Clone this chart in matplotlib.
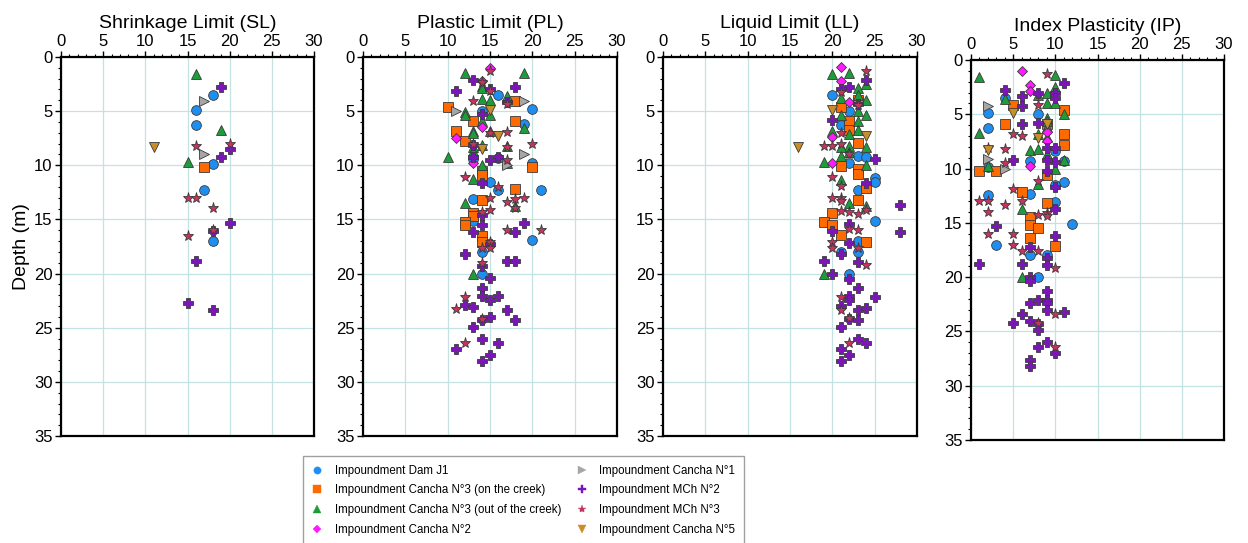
import matplotlib
matplotlib.use("Agg")
import matplotlib.pyplot as plt
from matplotlib.lines import Line2D
from matplotlib.ticker import MultipleLocator

plt.rcParams['font.family'] = ['Liberation Sans', 'DejaVu Sans']

# ---------------- data: (value, depth) ----------------
titles = ["Shrinkage Limit (SL)", "Plastic Limit (PL)", "Liquid Limit (LL)", "Index Plasticity (IP)"]
series_names = ["Impoundment Dam J1", "Impoundment Cancha N°3 (on the creek)",
                "Impoundment Cancha N°3 (out of the creek)", "Impoundment Cancha N°2",
                "Impoundment Cancha N°1", "Impoundment MCh N°2",
                "Impoundment MCh N°3", "Impoundment Cancha N°5"]

SL_dam = [(18, 3.5), (16, 4.9), (16, 6.3), (18, 9.9), (17, 12.3), (18, 17.0)]
SL_c3on = [(17, 10.2)]
SL_c3out = [(16, 1.6), (19, 6.7), (15, 9.7)]
SL_c2 = []
SL_c1 = [(17, 4.1), (17, 9.0)]
SL_mch2 = [(19, 2.8), (20, 8.5), (19, 9.2), (20, 15.3), (18, 16.1), (16, 18.8), (15, 22.7), (18, 23.4)]
SL_mch3 = [(16, 8.2), (20, 8.0), (15, 13.0), (16, 13.0), (18, 13.9), (18, 16.0), (15, 16.5)]
SL_c5 = [(11, 8.3)]

PL_dam = [(16, 3.5), (20, 4.8), (14, 5.0), (19, 6.2), (13, 9.4), (16, 9.3), (20, 9.8), (15, 11.5),
          (16, 12.3), (21, 12.3), (13, 13.1), (13, 15.1), (20, 16.9), (14, 18.0), (14, 20.0)]
PL_c3on = [(18, 4.1), (10, 4.6), (13, 5.9), (18, 5.9), (11, 6.8), (12, 7.8), (20, 10.2), (14, 10.5),
           (14, 10.9), (18, 12.2), (14, 13.2), (13, 14.4), (13, 14.7), (12, 15.2), (12, 15.5),
           (14, 16.5), (14, 17.1)]
PL_c3out = [(12, 1.5), (19, 1.5), (14, 2.7), (14, 2.9), (17, 3.6), (14, 3.9), (15, 4.0), (12, 5.1),
            (12, 5.4), (15, 5.4), (14, 5.9), (19, 6.6), (13, 6.8), (13, 7.0), (15, 6.8), (13, 8.3),
            (13, 8.7), (14, 8.1), (17, 8.2), (10, 9.2), (17, 9.8), (14, 10.0), (13, 11.3),
            (12, 13.5), (18, 13.8), (13, 20.0)]
PL_c2 = [(15, 1.0), (14, 2.2), (14, 6.5), (11, 7.5), (13, 9.8)]
PL_c1 = [(19, 4.1), (11, 5.0), (19, 9.0), (17, 10.0)]
PL_mch2 = [(13, 2.1), (18, 2.8), (11, 3.1), (15, 3.0), (17, 4.2), (14, 5.3), (13, 8.1), (13, 9.2),
           (16, 9.2), (15, 9.5), (14, 11.6), (14, 14.6), (14, 15.5), (19, 15.3), (13, 16.2),
           (18, 16.2), (15, 17.3), (12, 18.2), (17, 18.8), (18, 18.8), (14, 19.3), (15, 20.4),
           (14, 21.3), (14, 22.1), (15, 22.4), (16, 22.1), (12, 22.9), (13, 23.1), (17, 23.4),
           (15, 24.0), (14, 24.3), (18, 24.3), (13, 24.9), (14, 26.0), (16, 26.4), (11, 27.0),
           (15, 27.5), (14, 28.1)]
PL_mch3 = [(15, 1.3), (14, 2.3), (15, 3.1), (13, 4.1), (17, 4.3), (15, 7.0), (17, 6.9), (20, 8.0),
           (13, 8.0), (17, 8.3), (17, 9.5), (12, 11.1), (16, 12.0), (15, 13.0), (17, 13.4),
           (18, 13.1), (19, 13.0), (18, 13.9), (15, 14.1), (14, 14.3), (17, 16.0), (21, 16.0),
           (15, 17.1), (15, 17.6), (14, 17.6), (14, 19.0), (12, 22.2), (11, 23.3), (14, 24.2),
           (12, 26.4)]
PL_c5 = [(15, 4.9), (16, 7.3), (14, 8.5)]

LL_dam = [(20, 3.5), (22, 5.0), (21, 6.3), (23, 9.1), (24, 9.2), (22, 9.8), (25, 11.2), (25, 11.5),
          (23, 12.3), (25, 15.1), (23, 17.0), (21, 18.0), (23, 18.0), (22, 20.0)]
LL_c3on = [(23, 4.0), (21, 4.6), (22, 5.9), (22, 6.7), (23, 7.9), (21, 10.1), (23, 10.3), (23, 10.8),
           (24, 12.1), (23, 13.2), (20, 14.4), (19, 15.2), (20, 15.5), (21, 16.4), (24, 17.1)]
LL_c3out = [(20, 1.6), (22, 1.5), (24, 2.5), (23, 2.9), (23, 3.5), (21, 3.8), (24, 4.0), (23, 5.0),
            (24, 5.4), (21, 5.4), (23, 5.9), (20, 6.8), (23, 6.7), (22, 7.1), (22, 8.2), (24, 8.3),
            (21, 8.3), (22, 8.8), (21, 9.1), (19, 9.7), (24, 10.0), (21, 11.4), (22, 13.5),
            (24, 13.8), (19, 20.0)]
LL_c2 = [(21, 0.9), (21, 2.2), (22, 4.2), (20, 7.4), (20, 9.8)]
LL_c1 = []
LL_mch2 = [(24, 2.1), (22, 2.8), (21, 3.0), (23, 4.3), (20, 5.8), (25, 9.4), (24, 11.6), (28, 13.7),
           (22, 15.4), (20, 16.1), (28, 16.2), (22, 17.2), (21, 18.2), (19, 18.8), (23, 18.9),
           (20, 20.0), (22, 20.5), (23, 21.3), (22, 22.1), (22, 22.4), (25, 22.2), (21, 23.0),
           (23, 23.4), (24, 23.2), (22, 24.2), (23, 24.3), (21, 24.9), (23, 26.0), (24, 26.4),
           (21, 27.0), (22, 27.5), (21, 28.1)]
LL_mch3 = [(24, 1.3), (21, 3.2), (23, 4.4), (21, 7.0), (21, 8.0), (19, 8.2), (20, 8.2), (22, 9.0),
           (20, 11.1), (21, 11.9), (20, 13.0), (21, 13.0), (21, 13.3), (24, 14.1), (21, 14.2),
           (22, 14.3), (23, 14.5), (22, 15.9), (23, 16.0), (20, 17.1), (20, 17.6), (23, 17.6),
           (24, 19.2), (21, 22.2), (21, 23.4), (22, 24.1), (22, 26.4)]
LL_c5 = [(20, 4.9), (24, 7.3), (16, 8.3)]

IP_dam = [(4, 3.5), (2, 4.9), (8, 5.0), (2, 6.3), (10, 8.4), (7, 9.3), (11, 9.3), (2, 9.9), (11, 11.2),
          (10, 11.5), (7, 12.3), (2, 12.4), (10, 13.1), (12, 15.1), (3, 17.0), (7, 18.0), (9, 18.0),
          (8, 20.0)]
IP_c3on = [(5, 4.1), (11, 4.6), (4, 5.9), (9, 5.9), (11, 6.8), (11, 7.8), (1, 10.2), (3, 10.2),
           (9, 10.6), (6, 12.2), (9, 13.2), (7, 14.5), (7, 15.2), (8, 15.5), (7, 16.4), (10, 17.1)]
IP_c3out = [(1, 1.6), (10, 1.4), (10, 2.5), (9, 3.0), (8, 3.2), (4, 3.6), (9, 4.0), (10, 4.0),
            (11, 5.0), (9, 5.3), (9, 5.6), (1, 6.7), (9, 6.2), (8, 6.8), (9, 7.1), (7, 8.3),
            (8, 8.2), (9, 8.7), (11, 9.2), (2, 9.8), (10, 10.0), (8, 11.4), (6, 13.7), (6, 20.0)]
IP_c2 = [(6, 1.0), (7, 2.3), (7, 2.9), (9, 6.6), (9, 7.5), (7, 9.8)]
IP_c1 = [(2, 4.2), (2, 9.1), (4, 10.0)]
IP_mch2 = [(11, 2.1), (4, 2.8), (8, 3.0), (10, 3.0), (10, 3.5), (6, 3.3), (6, 4.2), (8, 5.8), (6, 5.9),
           (9, 8.1), (10, 8.1), (5, 9.2), (10, 9.4), (9, 9.2), (9, 10.2), (10, 11.7), (10, 13.7),
           (3, 15.3), (10, 16.2), (7, 17.2), (9, 18.2), (1, 18.8), (6, 18.8), (9, 18.9), (7, 20.0),
           (7, 20.4), (9, 21.3), (7, 22.4), (8, 22.1), (9, 22.1), (9, 22.4), (9, 23.0), (6, 23.4),
           (11, 23.2), (7, 24.0), (5, 24.2), (8, 24.3), (8, 24.9), (9, 26.0), (8, 26.4), (10, 27.0),
           (7, 27.6), (7, 28.2)]
IP_mch3 = [(9, 1.3), (8, 4.1), (5, 6.8), (6, 7.0), (2, 8.1), (4, 8.2), (4, 9.5), (8, 11.1), (5, 11.9),
           (1, 13.0), (2, 13.0), (6, 13.0), (4, 13.4), (2, 14.0), (9, 14.1), (9, 14.4), (8, 14.3),
           (2, 16.0), (5, 16.0), (5, 17.0), (6, 17.6), (8, 17.6), (10, 19.2), (10, 23.4), (8, 24.2),
           (10, 26.4)]
IP_c5 = [(5, 4.9), (8, 7.2), (2, 8.3), (9, 5.9)]

panels = [
    [SL_dam, SL_c3on, SL_c3out, SL_c2, SL_c1, SL_mch2, SL_mch3, SL_c5],
    [PL_dam, PL_c3on, PL_c3out, PL_c2, PL_c1, PL_mch2, PL_mch3, PL_c5],
    [LL_dam, LL_c3on, LL_c3out, LL_c2, LL_c1, LL_mch2, LL_mch3, LL_c5],
    [IP_dam, IP_c3on, IP_c3out, IP_c2, IP_c1, IP_mch2, IP_mch3, IP_c5],
]

# ---------------- styles ----------------
styles = [
    dict(marker='o', color='#1f8ef1', ms=7.0),
    dict(marker='s', color='#ff6a00', ms=7.0),
    dict(marker='^', color='#1e9b3a', ms=7.0),
    dict(marker='D', color='#ff1aff', ms=5.6),
    dict(marker='>', color='#a6a6a6', ms=7.0),
    dict(marker='P', color='#7a16b8', ms=7.6),
    dict(marker='*', color='#c4345f', ms=8.0),
    dict(marker='v', color='#c98d2c', ms=7.0),
]
edge = '#3a3a3a'

fig = plt.figure(figsize=(12.48, 5.43), dpi=100)
W, H = 1248, 543
boxes = [(61, 57, 314, 436), (363, 57, 617, 436), (663, 57, 917, 436), (971, 60, 1224, 440)]

axes = []
for i, (l, t, r, b) in enumerate(boxes):
    ax = fig.add_axes([l / W, 1 - b / H, (r - l) / W, (b - t) / H])
    axes.append(ax)
    ax.set_xlim(0, 30)
    ax.set_ylim(35, 0)
    ax.xaxis.set_major_locator(MultipleLocator(5))
    ax.xaxis.set_minor_locator(MultipleLocator(1))
    ax.yaxis.set_major_locator(MultipleLocator(5))
    ax.yaxis.set_minor_locator(MultipleLocator(1))
    ax.xaxis.tick_top()
    ax.xaxis.set_label_position('top')
    ax.tick_params(axis='both', which='major', labelsize=12, length=4, width=1, direction='out', pad=2)
    ax.tick_params(axis='both', which='minor', length=2, width=0.8, direction='out')
    ax.tick_params(axis='x', which='both', bottom=False, top=True)
    ax.grid(True, which='major', color='#c4e2e2', lw=0.9)
    ax.set_axisbelow(True)
    for s in ax.spines.values():
        s.set_linewidth(1.6)
        s.set_color('black')
    ax.set_xlabel(titles[i], fontsize=14, labelpad=4)
    for data, st in zip(panels[i], styles):
        if not data:
            continue
        xs = [p[0] for p in data]
        ds = [p[1] for p in data]
        ax.plot(xs, ds, linestyle='none', marker=st['marker'], markersize=st['ms'],
                markerfacecolor=st['color'], markeredgecolor=edge, markeredgewidth=0.6,
                clip_on=False, zorder=3)

axes[0].set_ylabel("Depth (m)", fontsize=14, labelpad=3)

handles = [Line2D([], [], linestyle='none', marker=st['marker'], markersize=st['ms'] * 0.75,
                  markerfacecolor=st['color'], markeredgecolor=st['color'], markeredgewidth=0.3)
           for st in styles]
leg = fig.legend(handles, series_names,
                 loc='upper left', bbox_to_anchor=(303 / W, 1 - 456 / H), ncol=2,
                 fontsize=8.3, frameon=True, fancybox=False, edgecolor='#888888',
                 handlelength=1.0, handletextpad=1.0, columnspacing=1.3,
                 labelspacing=0.68, borderpad=0.75, borderaxespad=0)
leg.get_frame().set_linewidth(1.0)

fig.savefig("out.png", dpi=100)
